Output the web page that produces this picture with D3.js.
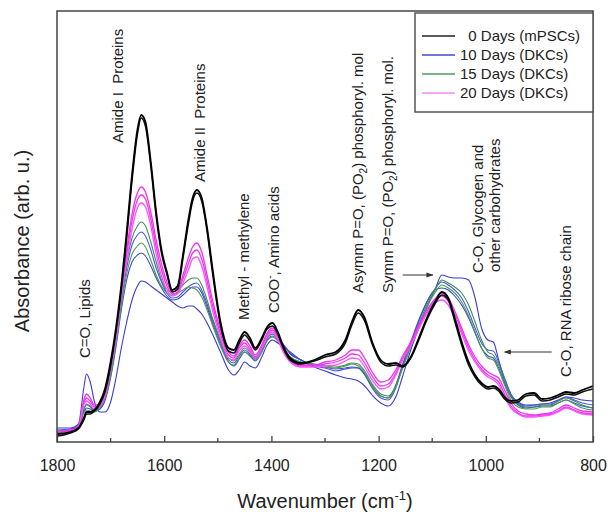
<!DOCTYPE html>
<html>
<head>
<meta charset="utf-8">
<script src="https://cdn.jsdelivr.net/npm/d3@7"></script>
<style>
  body { margin: 0; background: #fff; }
  #chart { width: 608px; height: 512px; }
  text { font-family: "Liberation Sans", Arial, sans-serif; white-space: pre; }
</style>
</head>
<body>
<div id="chart"></div>
<script>
// Wavenumber grid (cm-1) shared by all spectra
const wavenumbers = [1800,1775,1760,1750,1745,1738,1730,1720,1710,1700,
  1690,1680,1670,1660,1650,1643,1635,1625,1615,1605,
  1595,1585,1575,1565,1555,1547,1539,1530,1520,1510,
  1495,1480,1470,1460,1450,1440,1430,1418,1408,1398,
  1388,1378,1365,1345,1320,1300,1280,1262,1250,1238,
  1226,1212,1196,1182,1168,1155,1140,1125,1110,1095,
  1082,1070,1058,1045,1032,1020,1008,996,986,976,
  965,953,940,925,910,895,880,865,850,835,
  820,800];

// Absorbance (arb. u.)
const day0A = [8,10,14,24,30,30,32,40,54,80,
  114,157,210,267,312,327,320,280,230,192,
  170,152,156,187,222,244,252,244,214,174,
  120,94,92,102,110,104,94,104,115,119,
  110,96,84,79,82,87,90,102,120,132,
  124,100,82,78,79,76,85,104,124,140,
  150,144,124,100,80,67,59,55,56,53,
  45,41,42,48,49,43,44,47,50,49,
  52,56];
const day0B = [6,9,13,22,28,28,31,38,51,76,
  110,152,204,262,308,324,316,276,226,189,
  168,150,153,184,218,241,249,241,211,170,
  117,91,89,99,107,101,92,102,113,116,
  108,94,82,78,81,85,88,99,117,129,
  121,98,80,76,77,75,84,102,122,138,
  147,142,121,97,77,65,57,53,54,51,
  43,39,40,46,47,41,42,45,48,47,
  50,53];
const day10A = [14,14,18,54,68,60,40,30,30,40,
  64,94,120,142,156,161,160,156,152,148,
  144,140,136,134,136,136,133,128,119,108,
  90,72,67,72,80,76,74,85,97,102,
  99,95,90,82,75,71,67,64,63,61,
  56,47,39,36,45,66,92,114,134,152,
  167,165,164,164,162,144,114,102,100,82,
  62,47,40,37,37,38,39,42,45,44,
  42,41];
const day10B = [11,12,15,32,38,36,32,34,44,67,
  100,140,174,197,207,210,206,192,174,160,
  149,144,145,150,155,158,159,152,138,122,
  100,82,79,86,92,88,83,92,104,108,
  104,98,89,82,76,74,71,73,74,74,
  67,54,44,42,54,76,99,120,140,153,
  160,157,152,144,130,114,99,92,91,80,
  64,48,39,36,37,38,38,41,45,42,
  39,37];
const day10C = [12,13,16,30,34,33,31,33,42,64,
  95,132,162,180,187,189,186,176,164,154,
  146,142,143,147,152,155,155,149,135,119,
  97,80,76,83,90,86,81,90,102,106,
  102,97,88,82,77,75,73,74,75,74,
  68,56,46,44,57,78,100,122,140,152,
  154,152,146,137,124,109,94,86,84,74,
  59,45,37,34,35,36,36,39,42,39,
  36,34];
const day15A = [10,11,15,33,37,35,31,36,47,70,
  104,144,180,204,216,220,216,200,180,162,
  152,150,152,157,162,164,164,157,142,124,
  102,84,81,88,94,90,85,93,104,108,
  103,95,85,80,78,76,75,77,79,78,
  71,58,48,46,56,75,96,117,137,152,
  162,159,155,149,137,120,102,90,87,77,
  62,46,38,35,35,37,37,41,44,41,
  37,34];
const day15B = [9,10,14,29,32,31,30,34,44,66,
  98,136,168,188,196,199,195,182,167,156,
  149,147,149,152,155,154,152,145,132,117,
  96,80,77,84,90,87,82,90,101,105,
  101,94,85,80,77,75,74,76,78,76,
  69,56,46,44,55,74,95,116,135,149,
  157,154,149,140,126,110,94,84,82,72,
  57,42,35,33,33,35,35,39,42,38,
  34,32];
const day20A = [11,12,16,42,48,44,37,38,49,76,
  108,152,192,228,249,255,250,230,202,178,
  160,150,152,167,184,195,199,190,167,142,
  112,90,86,96,102,96,87,97,109,114,
  106,94,82,77,77,80,82,87,92,92,
  84,70,60,62,72,86,100,117,132,143,
  149,144,131,114,97,85,76,70,67,64,
  52,39,31,28,27,28,29,33,37,34,
  31,30];
const day20B = [9,11,15,39,44,41,35,37,48,74,
  106,149,187,221,242,247,243,223,195,172,
  156,148,150,163,178,189,192,183,161,137,
  108,87,84,94,99,93,85,95,107,112,
  104,92,81,76,76,78,80,84,88,87,
  79,66,56,58,69,84,98,115,130,141,
  146,141,128,111,94,82,73,67,64,60,
  48,36,29,26,26,27,28,31,35,32,
  29,28];
const day20C = [8,10,14,37,41,38,33,36,46,72,
  103,145,181,213,234,239,235,216,188,166,
  152,146,148,159,172,183,185,176,155,132,
  104,84,82,91,96,91,84,93,105,110,
  102,90,80,75,75,76,77,81,84,83,
  75,62,53,55,67,82,96,113,128,139,
  142,137,124,108,91,80,71,65,62,57,
  45,34,28,25,25,26,27,30,34,31,
  28,27];

// Legend labels and axis ticks
const legendLabels = ["\u20070 Days (mPSCs)", "10 Days (DKCs)", "15 Days (DKCs)", "20 Days (DKCs)"];
const legendColors = ["#222", "#4646cc", "#4f9a66", "#ef8cef"];
const xTicks = [1800, 1600, 1400, 1200, 1000, 800];
const xMinorTicks = [1700, 1500, 1300, 1100, 900];

// Band annotations: text, wavenumber of text centre, absorbance at its lower end
const annotations = [
    { text: ["C=O, Lipids"], w: 1748, v: 84 },
    { text: ["Amide I  Proteins"], w: 1686, v: 299 },
    { text: ["Amide II  Proteins"], w: 1533, v: 260 },
    { text: ["Methyl - methylene"], w: 1451, v: 122 },
    { text: ["COO", "-", ", Amino acids"], w: 1396, v: 129 },
    { text: ["Asymm P=O, (PO", "2", ") phosphoryl. mol"], w: 1239, v: 149 },
    { text: ["Symm P=O, (PO", "2", ") phosphoryl. mol."], w: 1183, v: 149 },
    { text: ["C-O, Glycogen and"], w: 1015, v: 169 },
    { text: ["other carbohydrates"], w: 982, v: 170 },
    { text: ["C-O, RNA ribose chain"], w: 850, v: 65 }
];
const arrows = [
    { from: 1155, to: 1099, v: 167 },
    { from: 877, to: 965, v: 90 }
];

function createChart(containerSelector) {
    const margin = { top: 11, right: 15, bottom: 70, left: 57 },
          width = 608 - margin.left - margin.right,
          height = 512 - margin.top - margin.bottom;

    d3.select(containerSelector).select("svg").remove();

    const root = d3.select(containerSelector)
        .append("svg")
        .attr("width", 608)
        .attr("height", 512);

    const defs = root.append("defs");
    defs.append("clipPath").attr("id", "plot-clip")
        .append("rect").attr("width", width).attr("height", height);
    defs.append("marker")
        .attr("id", "arrow-head")
        .attr("viewBox", "0 0 10 10")
        .attr("refX", 9).attr("refY", 5)
        .attr("markerWidth", 7).attr("markerHeight", 7)
        .attr("orient", "auto")
        .append("path").attr("d", "M0,1.5 L10,5 L0,8.5 Z").attr("fill", "#333");

    const svg = root.append("g")
        .attr("transform", `translate(${margin.left},${margin.top})`);

    const x = d3.scaleLinear().domain([1800, 800]).range([0, width]);
    const y = d3.scaleLinear().domain([0, height]).range([height, 0]);

    // Spectra
    const series = [
        { values: day10A, color: "#3b3bd2", w: 1.1 },
        { values: day10B, color: "#4858d8", w: 1.1 },
        { values: day10C, color: "#3a4cc4", w: 1.1 },
        { values: day15A, color: "#3e8e52", w: 1.1 },
        { values: day15B, color: "#4b9a5c", w: 1.1 },
        { values: day20A, color: "#f032f0", w: 1.3 },
        { values: day20B, color: "#e63ae6", w: 1.3 },
        { values: day20C, color: "#ff50ff", w: 1.3 },
        { values: day0B, color: "#111", w: 1.6 },
        { values: day0A, color: "#000", w: 1.8 }
    ];

    const line = d3.line()
        .x((d, i) => x(wavenumbers[i]))
        .y(d => y(d))
        .curve(d3.curveMonotoneX);

    svg.append("g")
        .attr("clip-path", "url(#plot-clip)")
        .selectAll(".spectrum")
        .data(series)
        .enter()
        .append("path")
        .attr("class", "spectrum")
        .attr("fill", "none")
        .attr("stroke", d => d.color)
        .attr("stroke-width", d => d.w)
        .attr("stroke-linejoin", "round")
        .attr("d", d => line(d.values));

    // Frame
    svg.append("rect")
        .attr("width", width)
        .attr("height", height)
        .attr("fill", "none")
        .attr("stroke", "#444")
        .attr("stroke-width", 1.5);

    // X axis, ticks pointing inward
    const xAxis = svg.append("g")
        .attr("transform", `translate(0, ${height})`)
        .call(d3.axisBottom(x).tickValues(xTicks).tickSize(-6).tickPadding(18).tickFormat(d3.format("d")));
    xAxis.select(".domain").remove();
    xAxis.selectAll("line").attr("stroke", "#444").attr("stroke-width", 1.3);
    xAxis.selectAll("text")
        .attr("font-size", "16px")
        .attr("fill", "#222")
        .style("font-family", "'Liberation Sans', Arial, sans-serif");

    svg.append("g")
        .attr("transform", `translate(0, ${height})`)
        .selectAll("line")
        .data(xMinorTicks)
        .enter()
        .append("line")
        .attr("x1", d => x(d)).attr("x2", d => x(d))
        .attr("y1", 0).attr("y2", -4)
        .attr("stroke", "#444").attr("stroke-width", 1.3);

    // Axis titles
    const xTitle = svg.append("text")
        .attr("x", width / 2)
        .attr("y", height + 66)
        .attr("text-anchor", "middle")
        .attr("font-size", "20px")
        .attr("fill", "#222");
    xTitle.append("tspan").text("Wavenumber (cm");
    xTitle.append("tspan").attr("dy", -8).attr("font-size", "13px").text("-1");
    xTitle.append("tspan").attr("dy", 8).text(")");

    svg.append("text")
        .attr("transform", `translate(${29 - margin.left}, ${241 - margin.top}) rotate(-90)`)
        .attr("text-anchor", "middle")
        .attr("font-size", "20px")
        .attr("fill", "#222")
        .text("Absorbance (arb. u.)");

    // Band annotations (rotated)
    annotations.forEach(a => {
        const t = svg.append("text")
            .attr("transform", `translate(${x(a.w) + 5}, ${y(a.v)}) rotate(-90)`)
            .attr("text-anchor", "start")
            .attr("font-size", "15px")
            .attr("fill", "#222");
        if (a.text.length === 1) {
            t.text(a.text[0]);
        } else {
            const sup = a.text[1] === "-";
            t.append("tspan").text(a.text[0]);
            t.append("tspan").attr("dy", sup ? -6 : 4).attr("font-size", "10px").text(a.text[1]);
            t.append("tspan").attr("dy", sup ? 6 : -4).text(a.text[2]);
        }
    });

    // Arrows
    svg.selectAll(".arrow")
        .data(arrows)
        .enter()
        .append("line")
        .attr("class", "arrow")
        .attr("x1", d => x(d.from)).attr("x2", d => x(d.to))
        .attr("y1", d => y(d.v)).attr("y2", d => y(d.v))
        .attr("stroke", "#333")
        .attr("stroke-width", 1)
        .attr("marker-end", "url(#arrow-head)");

    // Legend
    const legend = svg.append("g").attr("transform", `translate(${width - 178}, 2)`);
    legend.append("rect")
        .attr("width", 178)
        .attr("height", 99)
        .attr("fill", "#fff")
        .attr("stroke", "#555")
        .attr("stroke-width", 1.5);
    const item = legend.selectAll(".item")
        .data(legendLabels)
        .enter()
        .append("g")
        .attr("class", "item")
        .attr("transform", (d, i) => `translate(0, ${23 + i * 19})`);
    item.append("line")
        .attr("x1", 7).attr("x2", 40)
        .attr("stroke", (d, i) => legendColors[i])
        .attr("stroke-width", 1.3);
    item.append("text")
        .attr("x", 45)
        .attr("dy", "0.35em")
        .attr("font-size", "15px")
        .attr("fill", "#222")
        .text(d => d);
}

createChart("#chart");
</script>
</body>
</html>
